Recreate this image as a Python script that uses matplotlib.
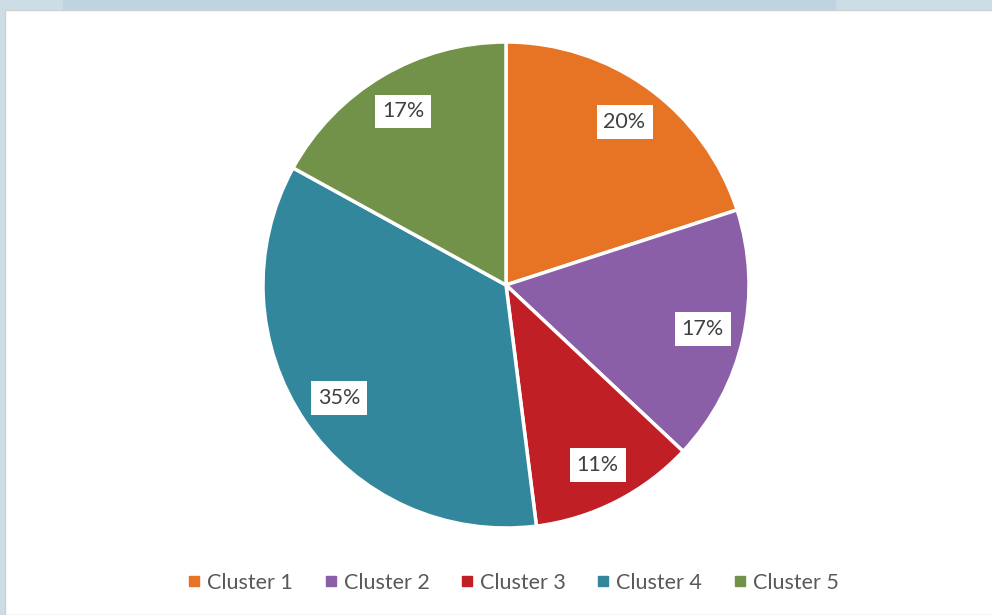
import matplotlib.pyplot as plt
from matplotlib.patches import Rectangle
from matplotlib.lines import Line2D

# ── Data ──────────────────────────────────────────────────────────────────────
clusters = ["Cluster 1", "Cluster 2", "Cluster 3", "Cluster 4", "Cluster 5"]
shares   = [20, 17, 11, 35, 17]
colors   = ["#e67424", "#8a5fa8", "#c11f26", "#33879c", "#72924a"]

plt.rcParams["font.family"] = ["Lato", "DejaVu Sans"]

W, H = 992, 615
fig = plt.figure(figsize=(W / 100, H / 100), dpi=100)
fig.patch.set_facecolor("#cddde6")

# white chart panel + darker strip along the top (behind the axes)
fig.patches.append(Rectangle((63 / W, 1 - 10 / H), (835 - 63) / W, 10 / H,
                             transform=fig.transFigure, color="#bfd3e0", zorder=-2))
fig.patches.append(Rectangle((5 / W, 0), 1, 1 - 10 / H,
                             transform=fig.transFigure, facecolor="white",
                             edgecolor="#d0d0d0", linewidth=1, zorder=-1))

# pie centred at (506, 285) px, radius ~243 px
cx, cy, r = 506, 285, 243
ax = fig.add_axes([(cx - r) / W, (H - cy - r) / H, 2 * r / W, 2 * r / H])
ax.set_zorder(1)

wedges, texts, autotexts = ax.pie(
    shares, colors=colors, startangle=90, counterclock=False,
    autopct="%d%%", pctdistance=0.83,
    wedgeprops=dict(edgecolor="white", linewidth=2.5),
    textprops=dict(fontsize=15.5, color="#404040"),
)
for t in autotexts:
    t.set_bbox(dict(facecolor="white", edgecolor="none", pad=5))
ax.set_xlim(-1, 1)
ax.set_ylim(-1, 1)
ax.set_aspect("equal")

# legend along the bottom
handles = [Line2D([], [], marker="s", linestyle="none", markersize=6.5,
                  markerfacecolor=c, markeredgecolor=c) for c in colors]
leg = fig.legend(handles, clusters, loc="center", bbox_to_anchor=(510 / W, 1 - 583 / H),
                 ncol=5, frameon=False, fontsize=15.5, handletextpad=0.0,
                 handlelength=1.2, columnspacing=1.15, labelcolor="#595959")
leg.set_zorder(2)

fig.savefig("out.png", dpi=100, facecolor=fig.get_facecolor())
